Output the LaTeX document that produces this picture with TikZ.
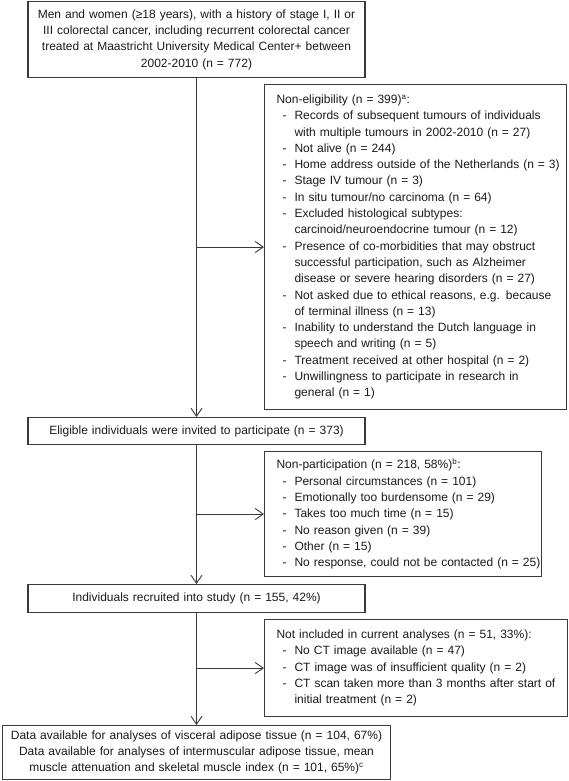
\documentclass[tikz,border=0pt]{standalone}
\usepackage{fontspec}
\setmainfont{Liberation Sans}
\usetikzlibrary{arrows.meta}
\definecolor{framegray}{HTML}{3A3A3A}
\definecolor{inkgray}{HTML}{1A1A1A}
% list lines: dash item and continuation line
\newcommand{\itm}[1]{\mbox{\hspace*{6pt}\makebox[12pt][l]{-}#1}}
\newcommand{\cnt}[1]{\mbox{\hspace*{18pt}#1}}

\begin{document}
\begin{tikzpicture}[x=1pt,y=-1pt,
  box/.style={draw=framegray,line width=1.1pt,text=inkgray,inner ysep=0pt,
    font=\fontsize{12pt}{16.3pt}\selectfont},
  mainbox/.style={box,align=center,anchor=north,inner xsep=6pt},
  sidebox/.style={box,align=left,anchor=north west,inner xsep=12pt},
  flow/.style={draw=framegray,line width=0.9pt,-{Straight Barb[length=8pt,width=11pt]}}]
  \useasboundingbox (0,0) rectangle (568,781);
  % main column
  \node[mainbox,text width=325pt,minimum height=76pt] (cohort) at (196.5,1)
    {Men and women (≥18 years), with a history of stage I, II or\\
     III colorectal cancer, including recurrent colorectal cancer\\
     treated at Maastricht University Medical Center+ between\\
     2002-2010 (n = 772)};
  \node[mainbox,text width=325pt,minimum height=27pt] (eligible) at (196.5,417)
    {Eligible individuals were invited to participate (n = 373)};
  \node[mainbox,text width=325pt,minimum height=28pt] (recruited) at (196.5,584)
    {Individuals recruited into study (n = 155, 42\%)};
  \node[mainbox,text width=376pt,minimum height=54pt] (available) at (196.5,725)
    {Data available for analyses of visceral adipose tissue (n = 104, 67\%)\\
     Data available for analyses of intermuscular adipose tissue, mean\\
     muscle attenuation and skeletal muscle index (n = 101, 65\%)\textsuperscript{c}};
  % side boxes
  \node[sidebox,text width=278pt,minimum height=325pt] (noneligible) at (264,84)
    {Non-eligibility (n = 399)\textsuperscript{a}:\\
     \itm{Records of subsequent tumours of individuals}\\
     \cnt{with multiple tumours in 2002-2010 (n = 27)}\\
     \itm{Not alive (n = 244)}\\
     \itm{Home address outside of the Netherlands (n = 3)}\\
     \itm{Stage IV tumour (n = 3)}\\
     \itm{In situ tumour/no carcinoma (n = 64)}\\
     \itm{Excluded histological subtypes:}\\
     \cnt{carcinoid/neuroendocrine tumour (n = 12)}\\
     \itm{Presence of co-morbidities that may obstruct}\\
     \cnt{successful participation, such as Alzheimer}\\
     \cnt{disease or severe hearing disorders (n = 27)}\\
     \itm{Not asked due to ethical reasons, e.g. because}\\
     \cnt{of terminal illness (n = 13)}\\
     \itm{Inability to understand the Dutch language in}\\
     \cnt{speech and writing (n = 5)}\\
     \itm{Treatment received at other hospital (n = 2)}\\
     \itm{Unwillingness to participate in research in}\\
     \cnt{general (n = 1)}};
  \node[sidebox,text width=253pt,minimum height=125pt] (nonpart) at (264,451)
    {Non-participation (n = 218, 58\%)\textsuperscript{b}:\\
     \itm{Personal circumstances (n = 101)}\\
     \itm{Emotionally too burdensome (n = 29)}\\
     \itm{Takes too much time (n = 15)}\\
     \itm{No reason given (n = 39)}\\
     \itm{Other (n = 15)}\\
     \itm{No response, could not be contacted (n = 25)}};
  \node[sidebox,text width=279pt,minimum height=97pt] (notincl) at (264,619)
    {Not included in current analyses (n = 51, 33\%):\\
     \itm{No CT image available (n = 47)}\\
     \itm{CT image was of insufficient quality (n = 2)}\\
     \itm{CT scan taken more than 3 months after start of}\\
     \cnt{initial treatment (n = 2)}};
  % connectors
  \draw[flow] (cohort) -- (eligible);
  \draw[flow] (eligible) -- (recruited);
  \draw[flow] (recruited) -- (available);
  \draw[flow] (noneligible.west -| cohort.south) -- (noneligible.west);
  \draw[flow] (nonpart.west -| cohort.south) -- (nonpart.west);
  \draw[flow] (notincl.west -| cohort.south) -- (notincl.west);
\end{tikzpicture}
\end{document}
